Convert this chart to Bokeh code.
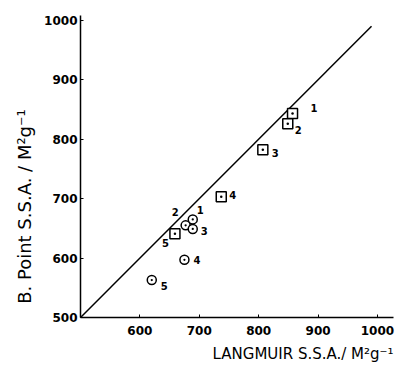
from bokeh.plotting import figure
from bokeh.models import Range1d, Title, FixedTicker
from bokeh.core.properties import value
from bokeh.embed import file_html
from bokeh.resources import INLINE

# data
sq_x = [857, 849, 807, 737, 659]
sq_y = [843, 826, 782, 703, 641]
sq_lbl = ["1", "2", "3", "4", "5"]
ci_x = [689, 677, 689, 675, 620]
ci_y = [665, 655, 649, 597, 563]
ci_lbl = ["1", "2", "3", "4", "5"]
line_x = [500, 990]
line_y = [500, 990]
ticks = [500, 600, 700, 800, 900, 1000]

# label offsets (screen px, y down), styling only
sq_dx = [18, 7, 9, 8, -13]
sq_dy = [-6, 6, 3, -2, 9]
ci_dx = [4, -14, 8, 9, 9]
ci_dy = [-9, -13, 2, 0, 6]

FONT = "DejaVu Sans"

p = figure(width=396, height=368, output_backend="svg", toolbar_location=None,
           x_range=Range1d(500, 1027), y_range=Range1d(500, 1008),
           min_border_left=80, min_border_right=3, min_border_top=15, min_border_bottom=51)
p.outline_line_color = None
p.grid.visible = False

p.line(line_x, line_y, line_color="black", line_width=1.5)

p.scatter(sq_x, sq_y, marker="square_dot", size=10, fill_color="white",
          line_color="black", line_width=1.5)
p.scatter(ci_x, ci_y, marker="circle_dot", size=9, fill_color="white",
          line_color="black", line_width=1.5)

p.text(sq_x, sq_y, text=sq_lbl, x_offset=sq_dx, y_offset=sq_dy,
       text_font=value(FONT), text_font_size="10px", text_font_style="bold",
       text_baseline="middle", text_align="left")
p.text(ci_x, ci_y, text=ci_lbl, x_offset=ci_dx, y_offset=ci_dy,
       text_font=value(FONT), text_font_size="10px", text_font_style="bold",
       text_baseline="middle", text_align="left")

for ax in (p.xaxis[0], p.yaxis[0]):
    ax.ticker = FixedTicker(ticks=ticks)
    ax.major_tick_in = 3
    ax.major_tick_out = 0
    ax.minor_tick_line_color = None
    ax.axis_line_width = 1.5
    ax.major_label_text_font = FONT
    ax.major_label_text_font_size = "12px"
    ax.major_label_text_font_style = "bold"
    ax.major_label_text_color = "black"

p.xaxis.major_label_overrides = {500: ""}
p.xaxis.major_label_standoff = 8
p.yaxis.major_label_standoff = 3

p.yaxis.axis_label = "B. Point S.S.A. / M²g⁻¹" + "\u00a0" * 14
p.yaxis.axis_label_text_font = FONT
p.yaxis.axis_label_text_font_size = "18px"
p.yaxis.axis_label_text_font_style = "normal"
p.yaxis.axis_label_text_color = "black"
p.yaxis.axis_label_standoff = 6

xt = Title(text="LANGMUIR S.S.A./ M²g⁻¹", align="right",
           text_font=FONT, text_font_size="15px", text_font_style="normal",
           text_color="black", standoff=10)
p.add_layout(xt, "below")

open("out.html", "w").write(file_html(p, INLINE))
